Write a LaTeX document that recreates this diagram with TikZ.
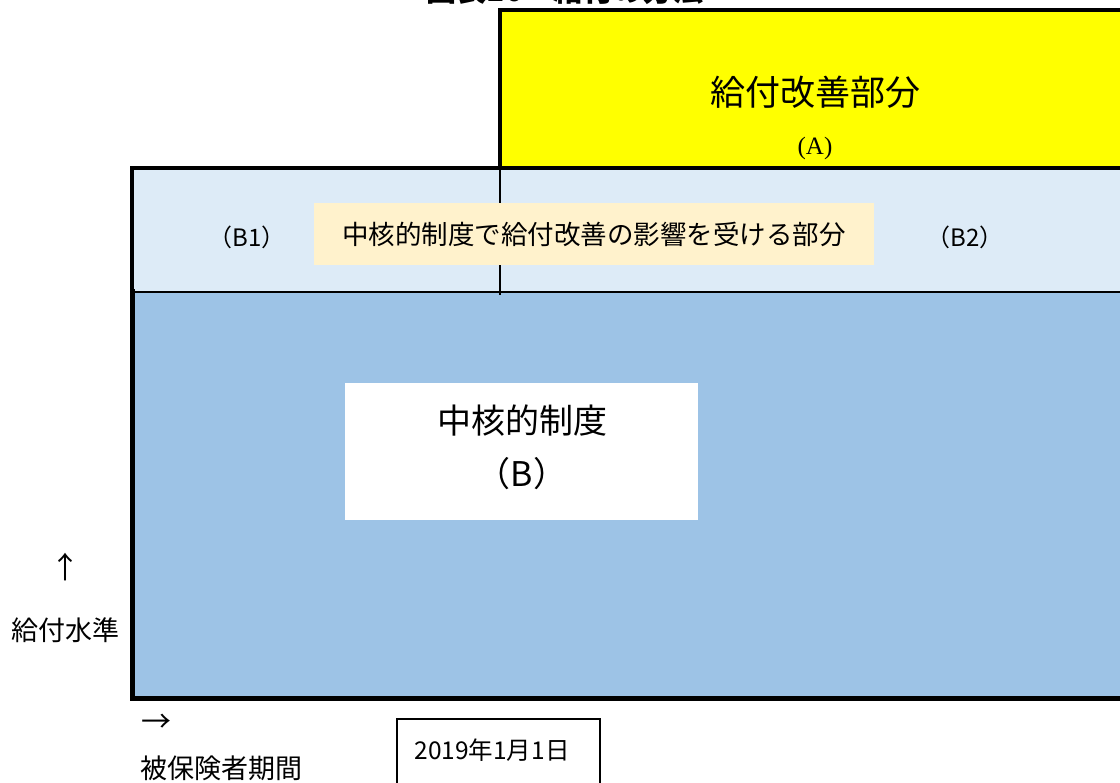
\documentclass[tikz,border=0pt]{standalone}
\usepackage{fontspec}
\setmainfont{Noto Sans CJK JP}
\newfontfamily\serifA{Liberation Serif}
\definecolor{mainblue}{HTML}{9DC3E6}
\definecolor{bandblue}{HTML}{DDEBF7}
\definecolor{cream}{HTML}{FFF2CC}
\definecolor{brightyellow}{HTML}{FFFF00}
\newcommand{\fs}[1]{\fontsize{#1}{#1}\selectfont}
\tikzset{
  area/.style={anchor=north west, inner sep=0pt, outer sep=0pt},
  heavy/.style={line width=4pt, line cap=rect},
  thin/.style={line width=2pt},
  lbl/.style={inner sep=0pt, text=black},
}
\begin{document}
\begin{tikzpicture}[x=1pt,y=-1pt]
\useasboundingbox (0,0) rectangle (1120,783);
\clip (0,0) rectangle (1120,783);
% title (cut off at top, as in the reference)
\node[lbl, anchor=base, font=\bfseries\fs{30}] (title) at (565,1.5) {図表10　給付の方法};
% areas
\node[area, fill=mainblue, minimum width=1010pt, minimum height=406pt] (core) at (132,292) {};
\node[area, fill=bandblue, minimum width=1010pt, minimum height=124pt] (band) at (132,168) {};
\node[area, fill=brightyellow, minimum width=640pt, minimum height=158pt] (imp) at (500,10) {};
% borders
\draw[thin] (band.south west) -- (band.south east);
\draw[thin] (imp.south west) -- ([yshift=-3pt]imp.south west |- band.south);
\draw[heavy] (imp.south west) -- (imp.north west) -- (imp.north east);
\draw[heavy] (band.south west) -- (band.north west) -- (band.north east);
\draw[line width=5pt, line cap=rect] (core.north west) -- (core.south west) -- (core.south east);
% yellow labels
\node[lbl, font=\fs{35}] (impt) at (815,92) {給付改善部分};
\node[lbl, font=\serifA\fs{25}] (impa) at (815,148) {(A)};
% band labels
\node[lbl, font=\fs{24}] (b1) at (247,237) {（B1）};
\node[area, anchor=center, fill=cream, minimum width=560pt, minimum height=62pt, font=\fs{26.5}] (affect) at (594,234) {中核的制度で給付改善の影響を受ける部分};
\node[lbl, font=\fs{24}] (b2) at (965,237) {（B2）};
% core box
\node[area, fill=white, minimum width=353pt, minimum height=137pt] (corebox) at (345,383) {};
\node[lbl, font=\fs{34}] (coret) at (522,421) {中核的制度};
\node[lbl, font=\fs{34}] (coreb) at (522,474) {（B）};
% axes labels
\node[lbl, font=\fs{30}] (up) at (65,567) {↑};
\node[lbl, font=\fs{27}] (lvl) at (66,630) {給付水準};
\node[lbl, font=\fs{30}] (right) at (156,723) {→};
\node[lbl, font=\fs{27}] (period) at (221,768) {被保険者期間};
% date box
\node[area, draw=black, line width=1.5pt, minimum width=203pt, minimum height=80pt] (datebox) at (397,719) {};
\node[lbl, font=\fs{24.5}] (date) at (492,750) {2019年1月1日};
\end{tikzpicture}
\end{document}
